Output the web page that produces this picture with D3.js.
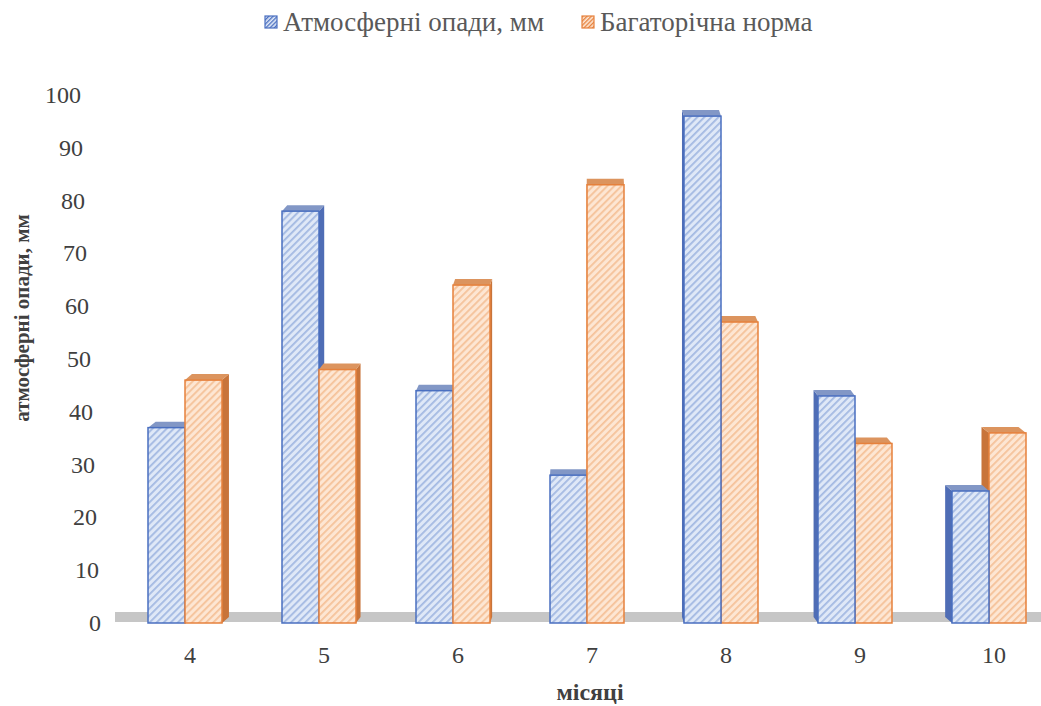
<!DOCTYPE html>
<html><head><meta charset="utf-8">
<script src="https://cdn.jsdelivr.net/npm/d3@7"></script>
</head><body style="margin:0">
<script>
const categories = ["4","5","6","7","8","9","10"];
const rainfall = [37, 78, 44, 28, 96, 43, 25];
const norm = [46, 48, 64, 83, 57, 34, 36];
const seriesNames = ["Атмосферні опади, мм", "Багаторічна норма"];
const yTicks = [0,10,20,30,40,50,60,70,80,90,100];

const W = 1041, H = 706;
const FONT = '"Times New Roman", "Liberation Serif", serif';
const svg = d3.select("body").append("svg").attr("width", W).attr("height", H)
  .style("display","block").style("font-family", FONT);

function setFont(sel, size, bold) {
  sel.style("font", (bold ? "bold " : "") + size + "px " + FONT);
  return sel;
}

const styles = [
  {bg:"#dfe8f7", stripe:"#a3b9e2", border:"#4a6fc0", side:"#4f6db5", cap:"#8297c6"},
  {bg:"#fde6d3", stripe:"#f5c29a", border:"#e6813c", side:"#c8743a", cap:"#dc945e"}
];
const defs = svg.append("defs");
styles.forEach((s,i)=>{
  const p = defs.append("pattern").attr("id","hatch"+i).attr("patternUnits","userSpaceOnUse")
    .attr("width",5).attr("height",5).attr("patternTransform","rotate(45)");
  p.append("rect").attr("width",5).attr("height",5).attr("fill",s.bg);
  p.append("rect").attr("width",1.8).attr("height",5).attr("fill",s.stripe);
  const q = defs.append("pattern").attr("id","lhatch"+i).attr("patternUnits","userSpaceOnUse")
    .attr("width",3).attr("height",3).attr("patternTransform","rotate(45)");
  q.append("rect").attr("width",3).attr("height",3).attr("fill",s.bg);
  q.append("rect").attr("width",1.3).attr("height",3).attr("fill",s.border);
});

const x = d3.scaleBand().domain(categories).range([118, 1056]).padding(0);
const y = d3.scaleLinear().domain([0,100]).range([623, 95]);
const bw = 37, vp = 590, k = 0.018, oy = -6;

// floor
svg.append("rect").attr("x",115).attr("y",y(0)-11).attr("width",W-115).attr("height",10).attr("fill","#c6c6c6");

// y tick labels (slight perspective shift)
setFont(svg.append("g").selectAll("text").data(yTicks).join("text")
  .attr("x", d => 101 - 20*d/100).attr("y", d => y(d) + 8)
  .attr("text-anchor","end").attr("fill","#404040")
  .text(d=>d), 24);

// x labels
setFont(svg.append("g").selectAll("text").data(categories).join("text")
  .attr("x", d => x(d)+x.bandwidth()/2+5).attr("y", 663)
  .attr("text-anchor","middle").attr("fill","#404040")
  .text(d=>d), 24);

// bars (painter's order: farthest from vanishing point first)
const series = [rainfall, norm];
const bars = [];
categories.forEach((c,ci)=>{
  series.forEach((vals,si)=>{
    const x0 = x(c) + x.bandwidth()/2 - bw + si*bw;
    bars.push({c, si, v: vals[ci], x0, cx: x0 + bw/2});
  });
});
bars.sort((a,b)=>Math.abs(b.cx-vp)-Math.abs(a.cx-vp));
const g = svg.append("g");
bars.forEach(b=>{
  const s = styles[b.si];
  const x0 = b.x0, y0 = y(b.v), yb = y(0);
  const ox = (vp - b.cx)*k;
  if (ox > 0) {
    g.append("path").attr("d",`M${x0+bw},${y0} L${x0+bw+ox},${y0+oy} L${x0+bw+ox},${yb+oy} L${x0+bw},${yb} Z`).attr("fill",s.side);
  } else {
    g.append("path").attr("d",`M${x0},${y0} L${x0+ox},${y0+oy} L${x0+ox},${yb+oy} L${x0},${yb} Z`).attr("fill",s.side);
  }
  g.append("path").attr("d",`M${x0},${y0} L${x0+ox},${y0+oy} L${x0+bw+ox},${y0+oy} L${x0+bw},${y0} Z`).attr("fill",s.cap);
  g.append("rect").attr("x",x0).attr("y",y0).attr("width",bw).attr("height",yb-y0)
    .attr("fill",`url(#hatch${b.si})`).attr("stroke",s.border).attr("stroke-width",1.5);
});

// axis titles
setFont(svg.append("text").attr("transform","translate(29,318) rotate(-90)").attr("text-anchor","middle")
  .attr("fill","#404040").text("атмосферні опади, мм"), 21, true);
setFont(svg.append("text").attr("x",590).attr("y",700).attr("text-anchor","middle")
  .attr("fill","#404040").text("місяці"), 24, true);

// legend
const legX = [265, 582];
seriesNames.forEach((n,i)=>{
  svg.append("rect").attr("x",legX[i]).attr("y",16).attr("width",12).attr("height",12)
    .attr("fill",`url(#lhatch${i})`).attr("stroke",styles[i].border).attr("stroke-width",1.2);
  setFont(svg.append("text").attr("x",legX[i]+18).attr("y",31)
    .attr("fill","#595959").text(n), 27);
});
</script>
</body></html>
